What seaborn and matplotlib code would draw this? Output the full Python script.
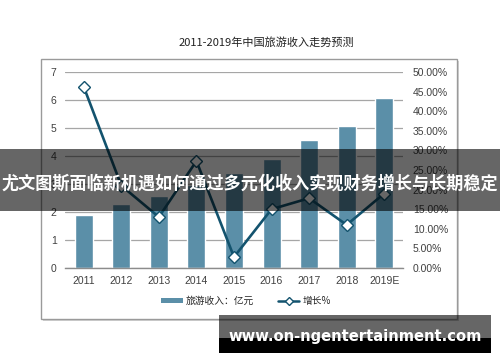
import matplotlib
matplotlib.use("Agg")
import matplotlib.pyplot as plt
import seaborn as sns
import numpy as np
import pandas as pd
from matplotlib.patches import Rectangle, Patch
from matplotlib.lines import Line2D
from matplotlib.ticker import FuncFormatter

# ---- data ----
years = ["2011", "2012", "2013", "2014", "2015", "2016", "2017", "2018", "2019E"]
revenue = [1.89, 2.29, 2.57, 2.96, 3.39, 3.89, 4.57, 5.07, 6.07]
growth = [46.2, 21.0, 13.0, 27.3, 2.8, 15.0, 17.8, 11.0, 19.0]
left_ticks = [0, 1, 2, 3, 4, 5, 6, 7]
right_ticks = [0, 5, 10, 15, 20, 25, 30, 35, 40, 45, 50]
legend_labels = ["旅游收入：亿元", "增长%"]
title = "2011-2019年中国旅游收入走势预测"
banner = "尤文图斯面临新机遇如何通过多元化收入实现财务增长与长期稳定"
watermark = "www.on-ngentertainment.com"

bar_color = "#5b8fa8"
line_color = "#13536e"

sns.set_theme(style="white")
plt.rcParams['font.family'] = ['Liberation Sans', 'Noto Sans CJK SC', 'DejaVu Sans']

W, H = 500, 362
fig = plt.figure(figsize=(5, 3.62), dpi=100)
fig.patch.set_facecolor("white")

def fx(px):
    return px / W

def fy(py):
    return 1 - py / H

# chart frame with a soft shadow
fig.patches.append(Rectangle((fx(43), fy(321)), fx(416), (321 - 61) / H,
                             transform=fig.transFigure, facecolor="#d2d2d2",
                             edgecolor="none", zorder=-3))
fig.patches.append(Rectangle((fx(41), fy(319)), fx(416), (319 - 59) / H,
                             transform=fig.transFigure, facecolor="white",
                             edgecolor="#9a9a9a", lw=1.0, zorder=-2))

fig.text(fx(266), fy(42), title, ha="center", va="center", fontsize=8,
         color="#222222", family=['Noto Sans CJK SC', 'DejaVu Sans'])

ax = fig.add_axes([fx(65), fy(268), fx(403 - 65), (268 - 72) / H])
ax.set_facecolor("none")
df = pd.DataFrame({"year": years, "revenue": revenue, "growth": growth})
sns.barplot(data=df, x="year", y="revenue", color=bar_color, width=0.48,
            saturation=1, ax=ax, zorder=2)
ax.set_ylim(0, 7)
ax.set_yticks(left_ticks)
ax.yaxis.grid(True, color="#a6a6a6", lw=0.9)
ax.xaxis.grid(False)
ax.set_axisbelow(True)
for s in ["top", "left", "right"]:
    ax.spines[s].set_visible(False)
ax.spines["bottom"].set_color("#8c8c8c")
ax.spines["bottom"].set_linewidth(1.0)
ax.tick_params(axis="y", length=0, labelsize=7.5, labelcolor="#404040", pad=6)
ax.tick_params(axis="x", length=0, labelsize=7.5, labelcolor="#404040", pad=6)
ax.set_xlabel("")
ax.set_ylabel("")

ax2 = ax.twinx()
sns.lineplot(x=np.arange(len(years)), y=growth, ax=ax2, color=line_color, lw=1.9,
             marker="D", markersize=6, markerfacecolor="white",
             markeredgecolor=line_color, markeredgewidth=1.0, zorder=3)
ax2.set_ylim(0, 50)
ax2.set_yticks(right_ticks)
ax2.yaxis.set_major_formatter(FuncFormatter(lambda v, p: f"{v:.2f}%"))
ax2.grid(False)
for s in ["top", "left", "right", "bottom"]:
    ax2.spines[s].set_visible(False)
ax2.tick_params(axis="y", length=0, labelsize=7.5, labelcolor="#404040", pad=7)
ax2.set_ylabel("")
ax.set_xlim(-0.5, len(years) - 0.5)

handles = [Patch(facecolor=bar_color, edgecolor="none"),
           Line2D([0], [0], color=line_color, lw=1.8, marker="D", markersize=4.5,
                  markerfacecolor="white", markeredgecolor=line_color)]
fig.legend(handles, legend_labels, loc="center", bbox_to_anchor=(fx(246), fy(301)),
           ncol=2, frameon=False, handlelength=2.2, handleheight=0.45,
           handletextpad=0.3, columnspacing=2.5,
           prop={"family": ['Noto Sans CJK SC', 'DejaVu Sans'], "size": 7})

# overlay banner
fig.patches.append(Rectangle((0, fy(211)), 1, (211 - 149) / H, transform=fig.transFigure,
                             facecolor="black", alpha=0.6, edgecolor="none", zorder=10))
fig.text(0.5, fy(184), banner, ha="center", va="center", fontsize=12.3,
         fontweight="bold", color="white", zorder=11,
         family=['Noto Sans CJK SC', 'DejaVu Sans'])

# watermark
fig.patches.append(Rectangle((fx(219), fy(338)), fx(272), (338 - 315) / H,
                             transform=fig.transFigure, facecolor="black", alpha=0.6,
                             edgecolor="none", zorder=10))
fig.patches.append(Rectangle((fx(219), fy(353)), fx(272), (353 - 338) / H,
                             transform=fig.transFigure, facecolor="black",
                             edgecolor="none", zorder=10))
fig.text(fx(355), fy(337), watermark, ha="center", va="center", fontsize=10.6,
         fontweight="bold", color="white", zorder=12, family="DejaVu Sans")

fig.savefig("out.png", dpi=100)
